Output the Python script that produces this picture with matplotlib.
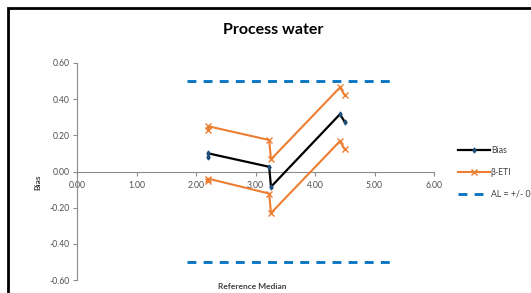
import matplotlib
matplotlib.use("Agg")
import matplotlib.pyplot as plt
from matplotlib.patches import Rectangle

plt.rcParams['font.family'] = ['Lato', 'DejaVu Sans']

# Data
ref_median = [2.21, 2.21, 3.23, 3.26, 4.42, 4.50]
bias = [0.08, 0.10, 0.026, -0.085, 0.317, 0.274]
eti_upper = [0.23, 0.25, 0.174, 0.067, 0.465, 0.422]
eti_lower = [-0.05, -0.04, -0.122, -0.23, 0.168, 0.122]
al_x = [1.85, 5.35]
al_value = 0.5

title = "Process water"
x_label = "Reference Median"
y_label = "Bias"
x_ticks = [0, 1, 2, 3, 4, 5, 6]
y_ticks = [-0.6, -0.4, -0.2, 0.0, 0.2, 0.4, 0.6]

W, H = 531, 293
fig = plt.figure(figsize=(W / 100, H / 100), dpi=100)
ax = fig.add_axes([77 / W, 1 - 280 / H, (434 - 77) / W, (280 - 63) / H])

orange = '#ED7D31'
blue = '#0070C0'

ax.plot(ref_median, bias, color='black', lw=1.6, marker='d', ms=2.5,
        mfc='#1F4E79', mec='#1F4E79', label='Bias', zorder=4)
ax.plot(ref_median, eti_upper, color=orange, lw=1.5, marker='x', ms=4,
        mew=1.0, label='β-ETI', zorder=3)
ax.plot(ref_median, eti_lower, color=orange, lw=1.5, marker='x', ms=4,
        mew=1.0, zorder=3)
ax.plot(al_x, [al_value, al_value], color=blue, lw=2, dashes=(3.2, 2.6),
        label='AL = +/- 0.5', zorder=2)
ax.plot(al_x, [-al_value, -al_value], color=blue, lw=2, dashes=(3.2, 2.6),
        zorder=2)

ax.set_xlim(0, 6)
ax.set_ylim(-0.6, 0.6)
ax.set_xticks(x_ticks)
ax.set_yticks(y_ticks)
ax.set_xticklabels([f"{v:.2f}" for v in x_ticks])
ax.set_yticklabels([f"{v:.2f}" for v in y_ticks])

for s in ['top', 'right']:
    ax.spines[s].set_visible(False)
ax.spines['bottom'].set_position(('data', 0))
ax.spines['bottom'].set_color('#8c8c8c')
ax.spines['left'].set_color('#8c8c8c')
ax.spines['bottom'].set_linewidth(0.8)
ax.spines['left'].set_linewidth(0.8)
ax.tick_params(axis='both', colors='#8c8c8c', labelcolor='#505050',
               labelsize=6.2, length=3, width=0.8)
ax.tick_params(axis='x', pad=4)
ax.tick_params(axis='y', pad=2)

ax.set_xlabel(x_label, fontsize=6.0, fontweight='bold', color='#404040')
ax.xaxis.set_label_coords(0.49, -0.015)
ax.set_ylabel(y_label, fontsize=6.0, fontweight='bold', color='#404040')
ax.yaxis.set_label_coords(-0.1, 0.45)

fig.text(273 / W, 1 - 30 / H, title, ha='center', va='center',
         fontsize=11.5, fontweight='bold', color='black')

leg = ax.legend(loc='upper left', bbox_to_anchor=(454 / W, 1 - 143 / H),
                bbox_transform=fig.transFigure, frameon=False, fontsize=6.3,
                handlelength=3.7, handletextpad=0.1, labelspacing=1.45,
                borderaxespad=0)
for t in leg.get_texts():
    t.set_color('#404040')

fig.patches.append(Rectangle((8 / W, -0.1), 1.2, 1 - 8 / H + 0.1,
                             transform=fig.transFigure, fill=False,
                             edgecolor='black', lw=2, clip_on=False))

fig.savefig('out.png', dpi=100)
